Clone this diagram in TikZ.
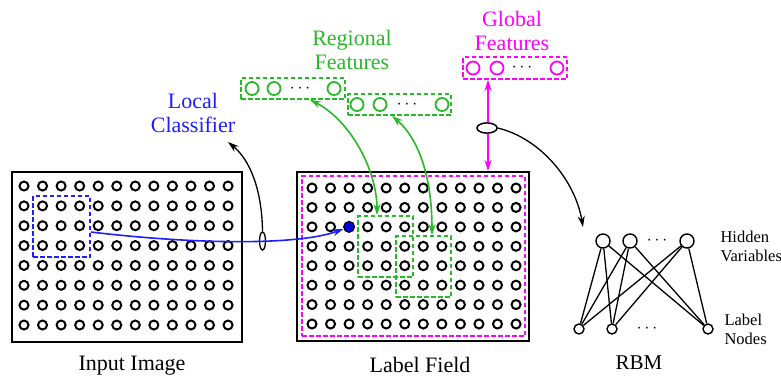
\documentclass[tikz,border=0pt]{standalone}
\usepackage{fontspec}
\setmainfont{Liberation Serif}
\usetikzlibrary{arrows.meta,shapes.geometric}
\definecolor{lblue}{RGB}{30,30,255}
\definecolor{lgreen}{RGB}{40,185,40}
\definecolor{lmag}{RGB}{255,0,255}
\begin{document}
\begin{tikzpicture}[x=1pt,y=-1pt,
  cell/.style={circle,draw,line width=2pt,minimum size=9pt,inner sep=0pt},
  fcell/.style={circle,draw,line width=1.8pt,minimum size=13pt,inner sep=0pt},
  hcell/.style={circle,draw,line width=1.4pt,minimum size=14pt,inner sep=0pt},
  vcell/.style={circle,draw,line width=1.4pt,minimum size=10pt,inner sep=0pt},
  frame/.style={draw,line width=2.2pt,inner sep=0pt},
  dbox/.style={draw,dash pattern=on 4.5pt off 2.5pt,line width=1.6pt,inner sep=0pt},
  lbl/.style={font=\fontsize{22}{24}\selectfont,align=center},
  slbl/.style={font=\fontsize{16.5}{19}\selectfont,align=left,anchor=west},
  tipk/.style={-{Stealth[length=11pt,width=7pt]}},
  tipb/.style={{Stealth[length=11pt,width=7pt]}-{Stealth[length=11pt,width=7pt]}},
  dots/.style={inner sep=0pt,font=\fontsize{16}{16}\selectfont},
]
\useasboundingbox (0,0) rectangle (781,378);

% frames
\node[frame,minimum width=230pt,minimum height=170pt] (inimg) at (127,257) {};
\node[frame,minimum width=232pt,minimum height=169pt] (lf) at (413,256.5) {};
\node[dbox,lmag,minimum width=223pt,minimum height=160pt] (glob) at (413.5,256) {};

% grids
\foreach \i in {0,...,11}{
  \foreach \j in {0,...,7}{
    \node[cell] (a-\i-\j) at ({24+18.55*\i},{186+19.86*\j}) {};
    \node[cell] (b-\i-\j) at ({312+18.55*\i},{188+19.43*\j}) {};
  }
}
\node[circle,fill=blue!85!black,draw=black,line width=1pt,minimum size=11pt,inner sep=0pt] (fc) at (b-2-2) {};

% local window and regional windows
\node[dbox,lblue,minimum width=57pt,minimum height=61pt] (bbox) at (61.5,226.5) {};
\node[dbox,lgreen,minimum width=55pt,minimum height=61pt] (gb1) at (385.5,246.5) {};
\node[dbox,lgreen,minimum width=55pt,minimum height=61pt] (gb2) at (423.5,266.5) {};

% feature boxes
\node[dbox,lgreen,minimum width=104pt,minimum height=21pt] (rf1) at (293,88.5) {};
\node[fcell,lgreen] (rf1a) at (252,88.5) {};
\node[fcell,lgreen] (rf1b) at (274,88.5) {};
\node[dots] (rf1d) at (300,88.5) {$\cdots$};
\node[fcell,lgreen] (rf1c) at (334,88.5) {};

\node[dbox,lgreen,minimum width=103pt,minimum height=21pt] (rf2) at (399.5,104.5) {};
\node[fcell,lgreen] (rf2a) at (357,104.5) {};
\node[fcell,lgreen] (rf2b) at (380,104.5) {};
\node[dots] (rf2d) at (407,104.5) {$\cdots$};
\node[fcell,lgreen] (rf2c) at (442,104.5) {};

\node[dbox,lmag,minimum width=104pt,minimum height=22pt] (gf) at (515,68) {};
\node[fcell,lmag] (gfa) at (473,68) {};
\node[fcell,lmag] (gfb) at (497,68) {};
\node[dots] (gfd) at (522,68) {$\cdots$};
\node[fcell,lmag] (gfc) at (557,68) {};

% labels
\node[lbl,lblue] (tloc) at (193,113) {Local\\Classifier};
\node[lbl,lgreen] (treg) at (352,50) {Regional\\Features};
\node[lbl,lmag] (tglob) at (512,31) {Global\\Features};
\node[lbl] (tin) at (132,366) {Input Image};
\node[lbl] (tlf) at (420,365) {Label Field};
\node[lbl,font=\fontsize{21}{24}\selectfont] (trbm) at (639,363) {RBM};
\node[slbl] (thid) at (717,246) {Hidden\\Variables};
\node[slbl] (tlab) at (721,329) {Label\\Nodes};

% RBM
\node[hcell] (h1) at (603,241) {};
\node[hcell] (h2) at (630,241) {};
\node[dots] (hd) at (657,241) {$\cdots$};
\node[hcell] (h3) at (687,241) {};
\node[vcell] (l1) at (579,329) {};
\node[vcell] (l2) at (612,329) {};
\node[dots] (ld) at (647,329) {$\cdots$};
\node[vcell] (l3) at (708,329) {};
\foreach \h in {h1,h2,h3}{
  \foreach \l in {l1,l2,l3}{
    \draw[line width=1.3pt] (\h) -- (\l);
  }
}

% ellipses
\node[ellipse,draw,line width=1.3pt,minimum width=6pt,minimum height=18pt,inner sep=0pt] (e1) at (262.5,241) {};
\node[ellipse,draw,line width=1.3pt,minimum width=20pt,minimum height=10pt,inner sep=0pt] (e2) at (487,128) {};

\coordinate (lcend) at (228,142);
\coordinate (rbmin) at (583,227);

% connectors
\draw[lblue,line width=1.6pt,tipk] ([yshift=-5.5pt]bbox.east) .. controls (200,245) and (300,245) .. (fc);
\draw[line width=1.3pt,tipk] (e1.north) .. controls (262,190) and (250,160) .. (lcend);
\draw[lgreen,line width=1.6pt,tipb]
  ([xshift=17pt]rf1.south) .. controls (350,120) and (377,170) .. ([xshift=-8.5pt]gb1.north);
\draw[lgreen,line width=1.6pt,tipb]
  ([xshift=-7.5pt]rf2.south) .. controls (420,140) and (432,180) .. ([xshift=8.5pt]gb2.north);
\draw[lmag,line width=1.6pt,tipb]
  ([xshift=-27pt]gf.south) -- ([xshift=75pt]lf.north);
\node[ellipse,draw,fill=white,line width=1.3pt,minimum width=20pt,minimum height=10pt,inner sep=0pt] at (e2) {};
\draw[line width=1.3pt,tipk] (e2.east) .. controls (540,138) and (575,180) .. (rbmin);
\end{tikzpicture}
\end{document}
